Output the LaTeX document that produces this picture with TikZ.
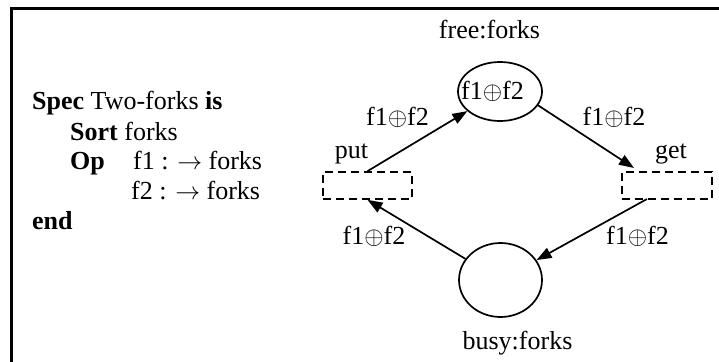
\documentclass[tikz,border=0pt]{standalone}
\usepackage{fontspec}
\setmainfont{Liberation Serif}
\usetikzlibrary{arrows.meta,shapes.geometric}
\begin{document}
\begin{tikzpicture}[x=1pt,y=-1pt,
  every node/.style={font=\fontsize{26}{30}\selectfont, inner sep=0pt},
  place/.style={draw, ellipse, line width=1.7pt},
  trans/.style={draw, dash pattern=on 8pt off 5pt, line width=1.7pt},
  arc/.style={line width=1.7pt, -{Triangle[length=15pt,width=11pt]}},
  lbl/.style={anchor=base},
  txt/.style={anchor=base west}]
\useasboundingbox (0,0) rectangle (719,361);

% frame
\draw[line width=3pt] (11,370) -- (11,9) -- (730,9);

% specification text
\node[txt] (l1) at (32,109) {\textbf{Spec} Two-forks \textbf{is}};
\node[txt] (l2) at (70,140) {\textbf{Sort} forks};
\node[txt] (l3) at (70,169) {\textbf{Op}};
\node[txt] (l3b) at (133,169) {f1 : $\rightarrow$ forks};
\node[txt] (l4) at (131,199) {f2 : $\rightarrow$ forks};
\node[txt] (l5) at (32,229) {\textbf{end}};

% places and transitions
\node[place, minimum width=84pt, minimum height=59pt] (free) at (500,91.5) {};
\node[place, minimum width=83pt, minimum height=74pt] (busy) at (500.5,280) {};
\node[trans, minimum width=89pt, minimum height=27pt] (putbox) at (367.5,185.5) {};
\node[trans, minimum width=90pt, minimum height=27pt] (getbox) at (667,185.5) {};

% labels
\node[lbl] (freelbl) at (489.5,38) {free:forks};
\node[lbl] (tokens) at (492.5,99) {f1$\oplus$f2};
\node[lbl] (busylbl) at (517.5,349) {busy:forks};
\node[lbl] (putlbl) at (351.5,158) {put};
\node[lbl] (getlbl) at (671,158) {get};
\node[lbl] (a1) at (397.5,125) {f1$\oplus$f2};
\node[lbl] (a2) at (614,125) {f1$\oplus$f2};
\node[lbl] (a3) at (374,244) {f1$\oplus$f2};
\node[lbl] (a4) at (637.5,244) {f1$\oplus$f2};

% arcs
\coordinate (getin) at (634,168);
\coordinate (getout) at (647,199);
\draw[arc] (putbox.north) -- (free);
\draw[arc] (free.-20) -- (getin);
\draw[arc] (getout) -- (busy);
\draw[arc] (busy) -- (putbox.south);
\end{tikzpicture}
\end{document}
